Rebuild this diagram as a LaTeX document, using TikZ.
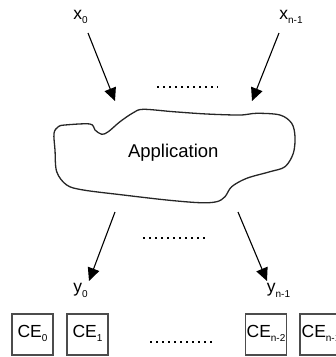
\documentclass[tikz,border=0pt]{standalone}
\usepackage{fontspec}
\setmainfont{Liberation Sans}
\usetikzlibrary{arrows.meta}
% lowered, smaller index text
\newcommand\lowidx[1]{\raisebox{-0.28em}{\fontsize{10}{10}\selectfont #1}}
\begin{document}
\begin{tikzpicture}[x=1pt,y=-1pt,
  lbl/.style={font=\fontsize{17.5}{20}\selectfont, inner sep=0pt, anchor=base},
  arr/.style={line width=1.1pt, -{Triangle[length=13pt,width=12pt]}},
  blob/.style={line width=1.3pt, draw=black!85},
  dots/.style={line width=1.8pt, dash pattern=on 1.8pt off 4.2pt},
  cebox/.style={draw=black!70, line width=1.6pt, minimum width=41pt,
    minimum height=41pt, inner sep=0pt},
  celbl/.style={font=\fontsize{17.5}{20}\selectfont, inner sep=0pt, anchor=base}]
\useasboundingbox (0,0) rectangle (336,357);
\clip (0,0) rectangle (336,357);

% inputs
\node[lbl] (x0) at (80.5,19) {x\lowidx{0}};
\node[lbl] (x1) at (291,19) {x\lowidx{n-1}};

% the application outline
\draw[blob] plot[smooth cycle, tension=0.55] coordinates {
  (58.3,126.7) (65,125) (90,124) (95,130) (101.7,134.3) (108.3,131.7)
  (120,121.7) (133.3,112.7) (143.3,109.3) (173.3,111.7) (206.7,114)
  (240,115) (256.7,113.3) (280,115) (291.7,123.3) (295,136.7)
  (293.3,153.3) (285,166.7) (270,171.7) (246.7,178.3) (231.7,186.7)
  (225,196.7) (216.7,201.7) (200,202.7) (166.7,200) (123.3,195)
  (83.3,190) (66.7,185) (56.7,171.7) (55,150) (54,133.3)};
\node[lbl, font=\fontsize{18.5}{21}\selectfont] (app) at (173.3,157) {Application};

% input arrows
\coordinate (x0s) at (88,33);
\coordinate (x0e) at (115,101);
\coordinate (x1s) at (279,33);
\coordinate (x1e) at (252,101);
\draw[arr] (x0s) -- (x0e);
\draw[arr] (x1s) -- (x1e);
\draw[dots] (157,87) -- (218,87);

% output arrows
\coordinate (y0s) at (115,212);
\coordinate (y0e) at (89,281);
\coordinate (y1s) at (238,212);
\coordinate (y1e) at (267,281);
\draw[arr] (y0s) -- (y0e);
\draw[arr] (y1s) -- (y1e);
\draw[dots] (143,238) -- (205,238);

\node[lbl] (y0) at (80.5,292.5) {y\lowidx{0}};
\node[lbl] (y1) at (278.5,292.5) {y\lowidx{n-1}};

% computing elements
\node[cebox] (ce0) at (32.5,334.5) {};
\node[cebox] (ce1) at (87.5,334.5) {};
\node[cebox] (ce2) at (266,334.5) {};
\node[cebox] (ce3) at (320.5,334.5) {};
\node[celbl] (t0) at (32.5,337) {CE\lowidx{0}};
\node[celbl] (t1) at (87.5,337) {CE\lowidx{1}};
\node[celbl] (t2) at (266,337) {CE\lowidx{n-2}};
\node[celbl] (t3) at (321,337) {CE\lowidx{n-1}};
\draw[dots] (150,342) -- (212,342);
\end{tikzpicture}
\end{document}
